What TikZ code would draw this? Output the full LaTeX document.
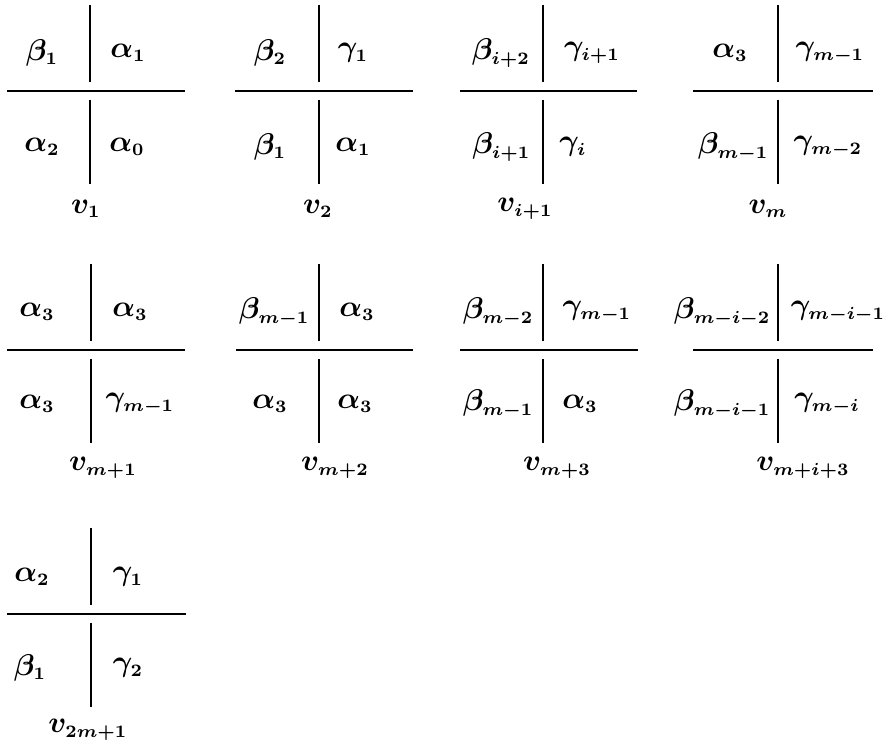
\documentclass[tikz,border=0pt]{standalone}
\DeclareMathSizes{11.5}{11.5}{7}{5}
\begin{document}
\begin{tikzpicture}[x=0.4pt,y=-0.4pt,
  rule/.style={line width=0.9pt},
  lab/.style={font=\fontsize{11.5}{14}\selectfont\boldmath, inner sep=0pt},
  tight/.style={lab, anchor=east}]
\useasboundingbox (0,0) rectangle (888,745);

% one cross: horizontal rule at height #3 from #4 to #5, split vertical rule at #2
\newcommand\crossblock[5]{%
  \coordinate (#1-l) at (#4,#3);
  \coordinate (#1-r) at (#5,#3);
  \coordinate (#1-ut) at (#2,#3-86);
  \coordinate (#1-ub) at (#2,#3-9);
  \coordinate (#1-lt) at (#2,#3+9);
  \coordinate (#1-lb) at (#2,#3+93);
  \draw[rule] (#1-l) -- (#1-r);
  \draw[rule] (#1-ut) -- (#1-ub);
  \draw[rule] (#1-lt) -- (#1-lb);
}

% ---- first row ----
\crossblock{a}{90}{91}{7}{185}
\node[lab] (a-nw) at (42,53) {$\beta_1$};
\node[lab] (a-ne) at (128,53) {$\alpha_1$};
\node[lab] (a-sw) at (42,147) {$\alpha_2$};
\node[lab] (a-se) at (127,147) {$\alpha_0$};
\node[lab] (a-n) at (86,209) {$v_1$};

\crossblock{b}{319}{91}{235}{413}
\node[lab] (b-nw) at (270,53) {$\beta_2$};
\node[lab] (b-ne) at (353,53) {$\gamma_1$};
\node[lab] (b-sw) at (270,147) {$\beta_1$};
\node[lab] (b-se) at (353,147) {$\alpha_1$};
\node[lab] (b-n) at (318,209) {$v_2$};

\crossblock{c}{543}{91}{460}{637}
\node[lab] (c-nw) at (501,53) {$\beta_{i+2}$};
\node[lab] (c-ne) at (592,53) {$\gamma_{i+1}$};
\node[tight] (c-sw) at (531,147) {$\beta_{i+1}$};
\node[lab] (c-se) at (573,147) {$\gamma_i$};
\node[lab] (c-n) at (525,209) {$v_{i+1}$};

\crossblock{d}{778}{91}{693}{873}
\node[lab] (d-nw) at (730,53) {$\alpha_3$};
\node[lab] (d-ne) at (830,53) {$\gamma_{m-1}$};
\node[tight] (d-sw) at (769,147) {$\beta_{m-1}$};
\node[lab] (d-se) at (828,147) {$\gamma_{m-2}$};
\node[lab] (d-n) at (768,209) {$v_m$};

% ---- second row ----
\crossblock{e}{91}{350}{7}{185}
\node[lab] (e-nw) at (37,312) {$\alpha_3$};
\node[lab] (e-ne) at (130,312) {$\alpha_3$};
\node[lab] (e-sw) at (37,404) {$\alpha_3$};
\node[lab] (e-se) at (140,404) {$\gamma_{m-1}$};
\node[lab] (e-n) at (103,468) {$v_{m+1}$};

\crossblock{f}{319}{350}{236}{413}
\node[tight] (f-nw) at (310,312) {$\beta_{m-1}$};
\node[lab] (f-ne) at (357,312) {$\alpha_3$};
\node[lab] (f-sw) at (270,404) {$\alpha_3$};
\node[lab] (f-se) at (355,404) {$\alpha_3$};
\node[lab] (f-n) at (335,468) {$v_{m+2}$};

\crossblock{g}{543}{350}{460}{638}
\node[tight] (g-nw) at (534,312) {$\beta_{m-2}$};
\node[lab] (g-ne) at (597,312) {$\gamma_{m-1}$};
\node[tight] (g-sw) at (534,404) {$\beta_{m-1}$};
\node[lab] (g-se) at (580,404) {$\alpha_3$};
\node[lab] (g-n) at (557,468) {$v_{m+3}$};

\crossblock{h}{778}{350}{693}{873}
\node[tight] (h-nw) at (771,312) {$\beta_{m-i-2}$};
\node[lab] (h-ne) at (838,312) {$\gamma_{m-i-1}$};
\node[tight] (h-sw) at (771,404) {$\beta_{m-i-1}$};
\node[lab] (h-se) at (827,404) {$\gamma_{m-i}$};
\node[lab] (h-n) at (803,468) {$v_{m+i+3}$};

% ---- third row ----
\crossblock{k}{91}{614}{7}{186}
\node[lab] (k-nw) at (32,577) {$\alpha_2$};
\node[lab] (k-ne) at (128,577) {$\gamma_1$};
\node[lab] (k-sw) at (30,668) {$\beta_1$};
\node[lab] (k-se) at (128,668) {$\gamma_2$};
\node[lab] (k-n) at (88,730) {$v_{2m+1}$};
\end{tikzpicture}
\end{document}
